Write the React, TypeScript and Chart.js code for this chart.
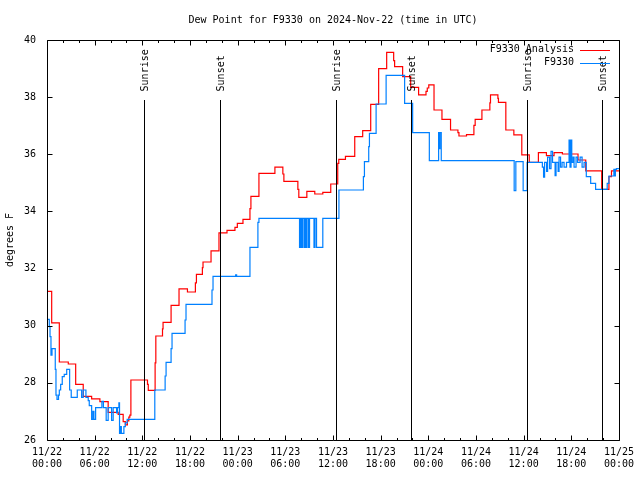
import React, { useEffect, useRef } from 'react';
import { Chart, registerables } from 'chart.js';

Chart.register(...registerables);

const chartTitle = 'Dew Point for F9330 on 2024-Nov-22 (time in UTC)';
const yAxisLabel = 'degrees F';
const seriesNames = ['F9330 Analysis', 'F9330'];

// hours since 2024-11-22 00:00 UTC, value (deg F) holds from that hour on
const analysisHours = [
  0, 0.59, 1.55, 2.68, 3.61, 4.56, 5.62, 6.66, 7.7, 8.96, 9.59, 9.86, 10.12, 10.3, 10.43, 10.56,
  12.65, 12.75, 13.61, 13.7, 14.54, 14.61, 15.62, 16.62, 17.68, 18.68, 18.81, 19.56, 19.64, 20.65,
  21.65, 22.66, 23.66, 23.96, 24.67, 25.55, 25.67, 26.68, 28.69, 29.69, 29.82, 31.58, 31.7, 32.71,
  33.71, 34.72, 35.72, 36.6, 36.73, 37.57, 38.74, 39.74, 40.75, 41.75, 42.76, 43.64, 43.76, 44.77,
  45.78, 46.78, 47.71, 47.87, 48.06, 48.72, 49.72, 50.8, 51.73, 51.86, 52.81, 53.74, 53.9, 54.75,
  55.75, 55.83, 56.76, 56.83, 57.76, 58.77, 59.77, 60.71, 61.86, 62.87, 63.83, 64.88, 66.85, 67.82,
  69.83, 70.74, 71.06, 72,
];
const analysisValues = [
  31.2, 30.1, 28.73, 28.66, 27.95, 27.53, 27.44, 27.34, 26.97, 26.9, 26.64, 26.53, 26.67, 26.8, 26.87, 28.1,
  27.95, 27.74, 28.7, 29.64, 29.89, 30.12, 30.71, 31.29, 31.18, 31.5, 31.8, 32.03, 32.23, 32.62,
  33.25, 33.34, 33.44, 33.58, 33.72, 34.1, 34.53, 35.33, 35.55, 35.31, 35.05, 34.77, 34.49, 34.7,
  34.61, 34.67, 34.96, 35.68, 35.82, 35.93, 36.62, 36.83, 37.75, 39.0, 39.57, 39.28, 39.07, 38.72,
  38.34, 38.08, 38.2, 38.32, 38.43, 37.55, 37.22, 36.85, 36.76, 36.64, 36.69, 37.01, 37.22, 37.55,
  37.8, 38.08, 37.96, 37.82, 36.85, 36.68, 35.98, 35.72, 36.06, 35.95, 36.06, 36.01, 35.8, 35.42,
  34.77, 35.22, 35.42, 35.42,
];

const obsHours = [
  0, 0.29, 0.38, 0.5, 0.63, 1.04, 1.13, 1.26, 1.45, 1.55, 1.72, 1.92, 2.17, 2.48, 2.85, 3.05,
  3.81, 4.36, 4.56, 4.9, 5.19, 5.32, 5.62, 5.78, 5.91, 6.12, 6.91, 7.1, 7.45, 7.7, 8.13, 8.33,
  8.76, 8.88, 9.05, 9.13, 9.26, 9.36, 9.68, 9.86, 10.09, 13.57, 14.87, 14.99, 15.62, 15.74, 17.38,
  17.5, 20.77, 20.9, 23.75, 23.87, 25.55, 26.55, 26.68,
  31.79, 31.89, 32.04, 32.17, 32.36, 32.48, 32.61, 32.73, 32.92, 33.05, 33.61, 33.74, 33.93, 34.72,
  36.75, 39.83, 39.96, 40.5, 40.59, 41.43, 42.69, 45.02, 46.03, 48.13, 49.3, 49.39, 49.47, 49.63,
  58.81, 59.02, 59.94, 60.44, 62.36, 62.51, 62.64, 62.89, 63.02, 63.27, 63.45, 63.64, 63.96, 64.08,
  64.34, 64.46, 64.65, 64.84, 65.09, 65.4, 65.72, 65.84, 65.97, 66.06, 66.22, 66.35, 66.6, 66.79,
  67.11, 67.36, 67.61, 67.89, 68.44, 69.06, 70.52, 70.74, 71.36, 71.45, 71.55, 71.68, 72,
];
const obsValues = [
  30.22, 29.97, 29.62, 28.97, 29.2, 28.47, 27.57, 27.42, 27.57, 27.75, 27.95, 28.22, 28.3, 28.47, 27.75, 27.49,
  27.75, 27.49, 27.75, 27.49, 27.38, 27.2, 26.72, 27.0, 26.72, 27.13, 27.35, 27.13, 26.69, 27.13, 26.69, 27.13,
  26.95, 27.13, 27.3, 26.23, 26.47, 26.23, 26.47, 26.6, 26.72, 27.75, 28.24, 28.72, 29.2, 29.73, 30.2,
  30.75, 31.25, 31.73, 31.78, 31.73, 32.74, 33.62, 33.76,
  32.74, 33.76, 32.74, 33.76, 32.74, 33.76, 32.74, 33.76, 32.74, 33.76, 32.74, 33.76, 32.74, 33.76,
  34.75, 35.22, 35.74, 36.27, 36.73, 37.76, 38.76, 37.78, 36.76, 35.78, 36.76, 36.2, 36.76, 35.78,
  34.73, 35.74, 34.73, 35.72, 35.55, 35.2, 35.72, 35.4, 35.9, 35.5, 36.1, 35.72, 35.25, 35.72,
  35.4, 35.9, 35.55, 35.72, 35.55, 35.72, 36.5, 35.55, 36.5, 35.72, 35.9, 35.55, 35.9, 35.72,
  35.9, 35.55, 35.72, 35.22, 34.98, 34.77, 34.98, 35.24, 35.47, 35.24, 35.47, 35.5, 35.5,
];

const xTickHours = [0, 6, 12, 18, 24, 30, 36, 42, 48, 54, 60, 66, 72];
const xTickDates = ['11/22', '11/22', '11/22', '11/22', '11/23', '11/23', '11/23', '11/23', '11/24', '11/24', '11/24', '11/24', '11/25'];
const xTickTimes = ['00:00', '06:00', '12:00', '18:00', '00:00', '06:00', '12:00', '18:00', '00:00', '06:00', '12:00', '18:00', '00:00'];
const xMinorStep = 2;
const yMin = 26;
const yMax = 40;
const yStep = 2;

const sunHours = [12.23, 21.78, 36.35, 45.8, 60.38, 69.88];
const sunNames = ['Sunrise', 'Sunset', 'Sunrise', 'Sunset', 'Sunrise', 'Sunset'];
const sunLineTop = 37.9;
const sunLabelAt = 38.2;

const FONT = '"DejaVu Sans Mono", "Liberation Mono", monospace';

const decorPlugin = {
  id: 'gnuplotDecor',
  afterDatasetsDraw(chart: any) {
    const ctx = chart.ctx as CanvasRenderingContext2D;
    const { left, right, top, bottom } = chart.chartArea;
    const xs = chart.scales.x;
    const ys = chart.scales.y;
    const L = Math.round(left) + 0.5;
    const R = Math.round(right) + 0.5;
    const T = Math.round(top) + 0.5;
    const B = Math.round(bottom) + 0.5;
    ctx.save();
    ctx.strokeStyle = '#000';
    ctx.lineWidth = 1;
    ctx.fillStyle = '#000';

    // sunrise / sunset lines and labels
    sunHours.forEach((h, i) => {
      const px = Math.round(xs.getPixelForValue(h)) + 0.5;
      ctx.beginPath();
      ctx.moveTo(px, B);
      ctx.lineTo(px, ys.getPixelForValue(sunLineTop));
      ctx.stroke();
      ctx.save();
      ctx.translate(px + 1, ys.getPixelForValue(sunLabelAt));
      ctx.rotate(-Math.PI / 2);
      ctx.font = '10px ' + FONT;
      ctx.textAlign = 'left';
      ctx.textBaseline = 'middle';
      ctx.fillText(sunNames[i], 0, 0);
      ctx.restore();
    });

    // border
    ctx.beginPath();
    ctx.rect(L, T, R - L, B - T);
    ctx.stroke();

    // x ticks (inward, mirrored)
    ctx.beginPath();
    for (let h = 0; h <= 72; h += xMinorStep) {
      const px = Math.round(xs.getPixelForValue(h)) + 0.5;
      const len = h % 6 === 0 ? 5 : 2.5;
      ctx.moveTo(px, B);
      ctx.lineTo(px, B - len);
      ctx.moveTo(px, T);
      ctx.lineTo(px, T + len);
    }
    // y ticks (inward, mirrored)
    for (let v = yMin; v <= yMax; v += yStep) {
      const py = Math.round(ys.getPixelForValue(v)) + 0.5;
      ctx.moveTo(L, py);
      ctx.lineTo(L + 5, py);
      ctx.moveTo(R, py);
      ctx.lineTo(R - 5, py);
    }
    ctx.stroke();

    // legend
    ctx.font = '10px ' + FONT;
    ctx.textAlign = 'right';
    ctx.textBaseline = 'middle';
    const legendColors = ['#ff0000', '#0080ff'];
    const legendY = [49.5, 62.5];
    seriesNames.forEach((name, i) => {
      ctx.fillStyle = '#000';
      ctx.fillText(name, 574, legendY[i]);
      ctx.strokeStyle = legendColors[i];
      ctx.beginPath();
      ctx.moveTo(580, Math.round(legendY[i]) + 0.5);
      ctx.lineTo(610, Math.round(legendY[i]) + 0.5);
      ctx.stroke();
    });

    // title
    ctx.fillStyle = '#000';
    ctx.textAlign = 'center';
    ctx.textBaseline = 'middle';
    ctx.fillText(chartTitle, (left + right) / 2, 20);

    // y axis label
    ctx.save();
    ctx.translate(10, (top + bottom) / 2);
    ctx.rotate(-Math.PI / 2);
    ctx.textAlign = 'center';
    ctx.textBaseline = 'middle';
    ctx.fillText(yAxisLabel, 0, 0);
    ctx.restore();

    ctx.restore();
  },
};

export default function App() {
  const canvasRef = useRef<HTMLCanvasElement | null>(null);

  useEffect(() => {
    if (!canvasRef.current) return;
    const analysisData = analysisHours.map((h, i) => ({ x: h, y: analysisValues[i] }));
    const obsData = obsHours.map((h, i) => ({ x: h, y: obsValues[i] }));
    const tickFont = { family: FONT, size: 10 };
    const chart = new Chart(canvasRef.current, {
      type: 'line',
      data: {
        datasets: [
          {
            label: seriesNames[0],
            data: analysisData,
            borderColor: '#ff0000',
            borderWidth: 1.2,
            pointRadius: 0,
            stepped: 'before',
            fill: false,
            order: 1,
          },
          {
            label: seriesNames[1],
            data: obsData,
            borderColor: '#0080ff',
            borderWidth: 1.2,
            pointRadius: 0,
            stepped: 'before',
            fill: false,
            order: 0,
          },
        ],
      },
      options: {
        animation: false,
        responsive: false,
        maintainAspectRatio: false,
        devicePixelRatio: 1,
        layout: { padding: { top: 40, right: 20, left: 0, bottom: 0 } },
        plugins: {
          legend: { display: false },
          title: { display: false },
          tooltip: { enabled: false },
        },
        scales: {
          x: {
            type: 'linear',
            min: 0,
            max: 72,
            afterFit: (s: any) => {
              s.height = 40;
            },
            afterBuildTicks: (s: any) => {
              s.ticks = xTickHours.map((v) => ({ value: v }));
            },
            ticks: {
              autoSkip: false,
              maxRotation: 0,
              minRotation: 0,
              padding: 6,
              color: '#000',
              font: tickFont,
              callback: (v: any) => {
                const i = xTickHours.indexOf(Number(v));
                return i >= 0 ? [xTickDates[i], xTickTimes[i]] : '';
              },
            },
            grid: { display: false, drawTicks: false },
            border: { display: false },
          },
          y: {
            type: 'linear',
            min: yMin,
            max: yMax,
            afterFit: (s: any) => {
              s.width = 47;
            },
            ticks: { stepSize: yStep, padding: 11, color: '#000', font: tickFont },
            grid: { display: false, drawTicks: false },
            border: { display: false },
          },
        },
      },
      plugins: [decorPlugin],
    } as any);
    return () => chart.destroy();
  }, []);

  return (
    <div style={{ position: 'fixed', left: 0, top: 0, width: 640, height: 480, background: '#fff' }}>
      <canvas ref={canvasRef} width={640} height={480} style={{ display: 'block' }} />
    </div>
  );
}
